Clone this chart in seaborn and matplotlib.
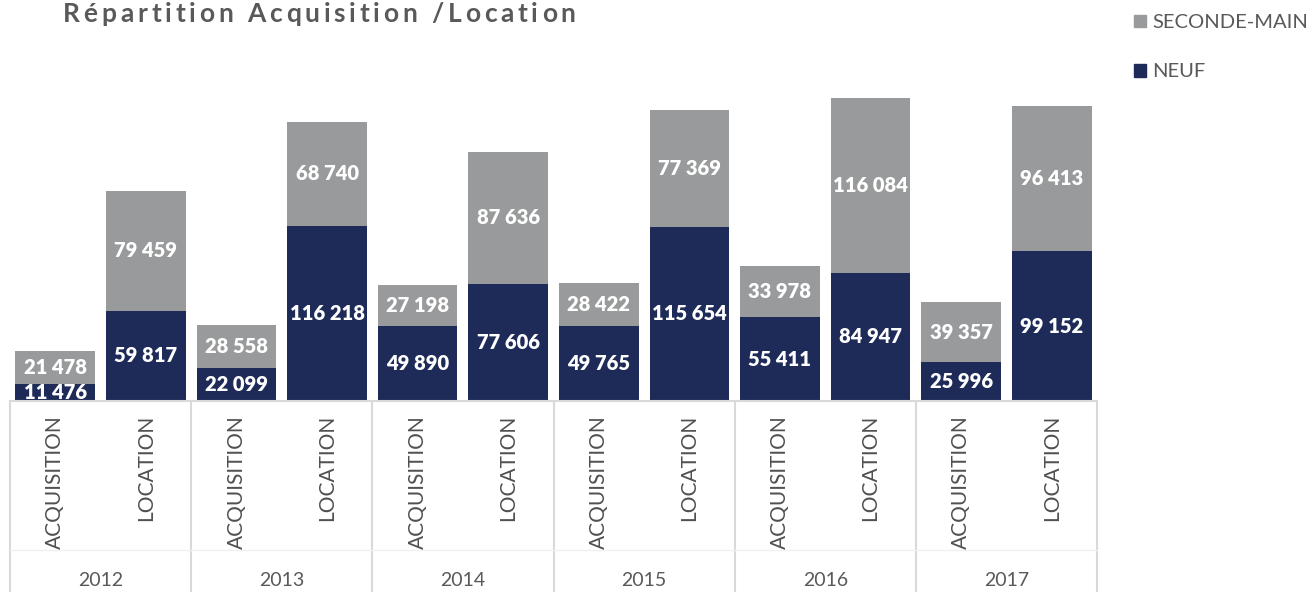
import numpy as np
import pandas as pd
import matplotlib
matplotlib.use('Agg')
import matplotlib.pyplot as plt
from matplotlib.patches import Patch
from matplotlib.lines import Line2D
import matplotlib.transforms as mtransforms
import seaborn as sns

years = ['2012', '2013', '2014', '2015', '2016', '2017']
types = ['ACQUISITION', 'LOCATION']
neuf_acq = [11476, 22099, 49890, 49765, 55411, 25996]
neuf_loc = [59817, 116218, 77606, 115654, 84947, 99152]
sm_acq = [21478, 28558, 27198, 28422, 33978, 39357]
sm_loc = [79459, 68740, 87636, 77369, 116084, 96413]

gris = '#989a9b'
bleu = '#1e2b58'
texte = '#595959'

rows = []
for i, y in enumerate(years):
    rows.append({'cat': y + ' ' + types[0], 'type': types[0], 'neuf': neuf_acq[i], 'sm': sm_acq[i]})
    rows.append({'cat': y + ' ' + types[1], 'type': types[1], 'neuf': neuf_loc[i], 'sm': sm_loc[i]})
df = pd.DataFrame(rows)
df['total'] = df['neuf'] + df['sm']

sns.set_theme(style='white')
plt.rcParams['font.family'] = ['Lato', 'DejaVu Sans']

W, H = 1312, 592
fig = plt.figure(figsize=(W / 100, H / 100), dpi=100)
ax = fig.add_axes([10 / W, 191 / H, 1087 / W, 316.7 / H])

sns.barplot(data=df, x='cat', y='total', color=gris, saturation=1, width=0.88, linewidth=0, ax=ax)
sns.barplot(data=df, x='cat', y='neuf', color=bleu, saturation=1, width=0.88, linewidth=0, ax=ax)

ax.set_xlim(-0.5, 11.5)
ax.set_ylim(0, 210000)
ax.set_ylabel('')
ax.set_xlabel('')
ax.set_yticks([])
for s in ['top', 'right', 'left']:
    ax.spines[s].set_visible(False)
ax.spines['bottom'].set_color('#d9d9d9')
ax.spines['bottom'].set_linewidth(1.5)

ax.set_xticks(range(len(df)))
ax.set_xticklabels(df['type'], rotation=90, va='top', ha='center',
                   fontsize=15, color='#505050')
ax.tick_params(axis='x', length=0, pad=10)

def fmt(v):
    return f'{v:,}'.replace(',', ' ')

for i, r in df.iterrows():
    ax.text(i, r['neuf'] / 2, fmt(r['neuf']), ha='center', va='center',
            color='white', fontsize=14.5, fontweight='heavy', clip_on=True)
    ax.text(i, r['neuf'] + r['sm'] / 2, fmt(r['sm']), ha='center', va='center',
            color='white', fontsize=14.5, fontweight='heavy', clip_on=True)

# séparateurs des années sous l'axe
trans = mtransforms.blended_transform_factory(ax.transData, ax.transAxes)
for k in range(len(years) + 1):
    x = -0.5 + 2 * k
    ax.add_line(Line2D([x, x], [0, -0.61], transform=trans, color='#d9d9d9',
                       lw=1.5, clip_on=False))
ax.add_line(Line2D([-0.5, 11.5], [-0.47, -0.47], transform=trans, color='#f0f0f0',
                   lw=1, clip_on=False))

transy = mtransforms.blended_transform_factory(ax.transData, fig.transFigure)
for k, y in enumerate(years):
    ax.text(2 * k + 0.5, 11 / H, y, transform=transy, ha='center', va='center',
            fontsize=14, color=texte, clip_on=False)

# titre avec espacement des lettres
titre = 'Répartition Acquisition /Location'
renderer = fig.canvas.get_renderer()
tmp = fig.text(0, 0, '', fontsize=19, fontweight='bold')
x0, esp = 63, 3.8
for k, ch in enumerate(titre):
    tmp.set_text(titre[:k] + '|')
    wk = tmp.get_window_extent(renderer).width
    tmp.set_text('|')
    wbar = tmp.get_window_extent(renderer).width
    fig.text((x0 + wk - wbar + k * esp) / W, 1 - 14 / H, ch, ha='left', va='center',
             fontsize=19, fontweight='bold', color=texte)
tmp.remove()

handles = [Patch(color=gris, label='SECONDE-MAIN'), Patch(color=bleu, label='NEUF')]
leg = fig.legend(handles=handles, loc='upper left', bbox_to_anchor=(1116 / W, 1 + 4 / H),
                 frameon=False, fontsize=14.5, labelspacing=1.6, handlelength=0.6,
                 handleheight=0.6, handletextpad=0.3)
for t in leg.get_texts():
    t.set_color(texte)

fig.savefig('out.png', dpi=100)
